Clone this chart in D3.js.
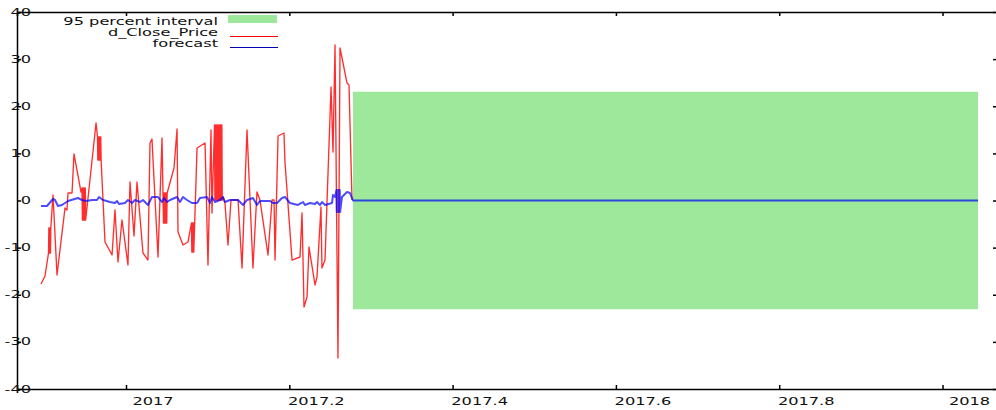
<!DOCTYPE html>
<html>
<head>
<meta charset="utf-8">
<script src="https://cdn.jsdelivr.net/npm/d3@7"></script>
<style>
  html, body { margin: 0; padding: 0; background: #fff; }
  svg { display: block; }
  text { font-family: "DejaVu Sans", sans-serif; fill: #111; }
</style>
</head>
<body>
<svg id="chart" width="996" height="410"></svg>
<script>
// Observed differenced closing price (decimal year, value)
const priceTime = [
  2016.8959, 2016.9008,
  2016.9051, 2016.9055, 2016.9059, 2016.9063, 2016.9067, 2016.9071, 2016.9075, 2016.9079,
  2016.9106, 2016.9155, 2016.9253, 2016.9277, 2016.9290, 2016.9339, 2016.9363, 2016.9449,
  2016.9461, 2016.9466, 2016.9471, 2016.9476, 2016.9481, 2016.9486, 2016.9491, 2016.9496, 2016.9501, 2016.9506,
  2016.9633,
  2016.9651, 2016.9655, 2016.9659, 2016.9663, 2016.9667, 2016.9671, 2016.9675, 2016.9679, 2016.9683, 2016.9687, 2016.9691, 2016.9695,
  2016.9743, 2016.9829, 2016.9865, 2016.9902, 2016.9951,
  2017.0024, 2017.0049, 2017.0098, 2017.0135, 2017.0208, 2017.0269, 2017.0294, 2017.0318,
  2017.0392, 2017.0441,
  2017.0459, 2017.0464, 2017.0469, 2017.0474, 2017.0479, 2017.0484, 2017.0489, 2017.0494, 2017.0499, 2017.0504,
  2017.0588, 2017.0625, 2017.0637, 2017.0698, 2017.0759,
  2017.0802, 2017.0806, 2017.0810, 2017.0814, 2017.0818, 2017.0822, 2017.0826, 2017.0830,
  2017.0870, 2017.0968, 2017.1004, 2017.1041, 2017.1053,
  2017.1084, 2017.1089, 2017.1094, 2017.1099, 2017.1104, 2017.1109, 2017.1114, 2017.1119, 2017.1124, 2017.1129,
  2017.1134, 2017.1139, 2017.1144, 2017.1149, 2017.1154, 2017.1159, 2017.1164, 2017.1169, 2017.1174, 2017.1179,
  2017.1188, 2017.1212, 2017.1249, 2017.1286, 2017.1372, 2017.1421, 2017.1482, 2017.1555,
  2017.1604, 2017.1641, 2017.1739, 2017.1788, 2017.1813, 2017.1825, 2017.1862, 2017.1935, 2017.1947,
  2017.2033, 2017.2131, 2017.2156, 2017.2180, 2017.2217, 2017.2241, 2017.2315, 2017.2339,
  2017.2388, 2017.2400, 2017.2437, 2017.2511, 2017.2535, 2017.2560, 2017.2596, 2017.2621,
  2017.2707, 2017.2731, 2017.2768
];
const priceValue = [
  -17.72, -16.02,
  -11.14, -5.84, -11.14, -5.84, -11.14, -5.84, -11.14, -5.84,
  1.17, -15.81, -1.59, -2.02, 1.59, 1.59, 9.87, 1.80,
  2.65, -4.14, 2.65, -4.14, 2.65, -4.14, 2.65, -4.14, 2.65, -4.14,
  16.45,
  13.47, 8.59, 13.47, 8.59, 13.47, 8.59, 13.47, 8.59, 13.47, 8.59, 13.47, 8.59,
  -8.81, -11.57, -2.02, -13.05, -4.14,
  -13.69, 3.93, -7.53, 3.93, -11.14, -12.63, 12.20, 13.05,
  -11.99, 13.26,
  -4.77, 1.59, -4.77, 1.59, -4.77, 1.59, -4.77, 1.59, -4.77, 1.59,
  6.90, 15.17, -6.68, -9.44, -8.81,
  -4.77, -10.93, -4.77, -10.93, -4.77, -10.93, -4.77, -10.93,
  11.14, 12.20, -13.69, 14.96, -2.65,
  16.02, 0.10, 16.02, 0.10, 16.02, 0.10, 16.02, 0.10, 16.02, 0.10,
  16.02, 0.10, 16.02, 0.10, 16.02, 0.10, 16.02, 0.10, 16.02, 0.10,
  0.74, -0.53, -9.44, 0.10, 0.10, -14.32, 14.96, -14.32,
  1.80, 0.10, -11.57, 0.10, 0.10, -12.63, 13.69, 14.32, 8.17,
  -12.63, -11.99, -2.65, -22.60, -20.48, -9.87, -17.93, -16.23,
  -1.38, -14.32, -12.63, 24.08, 10.29, 33.00, -33.42, 32.36,
  24.93, 24.51, 0.10
];

// In-sample fitted values of the model
const fitTime = [
  2016.8959, 2016.9032, 2016.9106, 2016.9130, 2016.9167, 2016.9216, 2016.9253, 2016.9290,
  2016.9412, 2016.9461, 2016.9510, 2016.9584, 2016.9645, 2016.9669, 2016.9718, 2016.9804,
  2016.9865, 2016.9890, 2016.9914, 2016.9988, 2017.0024, 2017.0073, 2017.0110, 2017.0171,
  2017.0208, 2017.0269, 2017.0318, 2017.0392, 2017.0441, 2017.0465, 2017.0502, 2017.0539,
  2017.0625, 2017.0661, 2017.0698, 2017.0747, 2017.0808, 2017.0870, 2017.0906, 2017.0992,
  2017.1029, 2017.1053, 2017.1090, 2017.1151, 2017.1188, 2017.1212, 2017.1274, 2017.1372,
  2017.1433, 2017.1482, 2017.1555, 2017.1604, 2017.1641, 2017.1764, 2017.1800, 2017.1849,
  2017.1911, 2017.1947, 2017.2008, 2017.2106, 2017.2168, 2017.2192, 2017.2253, 2017.2315,
  2017.2339, 2017.2376, 2017.2400, 2017.2437, 2017.2523, 2017.2535, 2017.2560,
  2017.2578, 2017.2582, 2017.2586, 2017.2590, 2017.2594, 2017.2598,
  2017.2602, 2017.2606, 2017.2610, 2017.2614, 2017.2618, 2017.2622,
  2017.2645, 2017.2707, 2017.2743, 2017.2780
];
const fitValue = [
  -1.17, -1.17, 0.32, 0.11, -1.17, -0.95, -0.53, -0.11,
  0.53, 0.11, -0.11, 0.11, 0.11, 0.74, 0.11, -0.32,
  -0.53, -0.11, -0.74, -0.53, 0.11, -0.53, 0.11, -0.32,
  0.11, -0.95, 0.74, 0.74, -0.32, 0.53, -0.32, 0.11,
  0.74, -0.32, 0.74, 0.11, -0.53, -0.53, 0.53, 0.74,
  -0.53, 0.74, -0.32, 0.11, 0.74, -0.32, 0.11, 0.11,
  -0.95, 0.11, 0.53, -0.95, -0.11, -0.11, -0.53, -0.53,
  0.53, 0.74, -0.53, -0.95, -0.32, -0.95, -0.53, -0.74,
  -0.32, -0.95, -0.32, -0.95, -0.53, 1.17, 0.74,
  2.23, -2.44, 2.23, -2.44, 2.23, -2.44,
  2.23, -2.44, 2.23, -2.44, 2.23, -2.44,
  0.74, 1.80, 1.59, 0.00
];

// Out-of-sample forecast and its 95 percent interval
const forecastTime = [2017.2780, 2018.0435];
const forecastValue = [0.0, 0.0];
const intervalUpper = [23.1, 23.1];
const intervalLower = [-23.1, -23.1];

// Axis ticks and legend entries
const xTicks = [2017, 2017.2, 2017.4, 2017.6, 2017.8, 2018];
const xTickLabels = ["2017", "2017.2", "2017.4", "2017.6", "2017.8", "2018"];
const yTicks = [-40, -30, -20, -10, 0, 10, 20, 30, 40];
const legendLabels = ["95 percent interval", "d_Close_Price", "forecast"];

const svg = d3.select("#chart");
const plot = { left: 17, right: 997, top: 12, bottom: 389 };

const x = d3.scaleLinear().domain([2016.8665, 2018.0655]).range([17, 996]);
const y = d3.scaleLinear().domain([-40, 40]).range([plot.bottom, plot.top]);

const stretch = 1.62;   // wide tick/legend lettering
const fontSize = 10;

// Confidence band
const band = forecastTime.map((t, i) => ({ t, lo: intervalLower[i], hi: intervalUpper[i] }));
svg.append("path")
  .datum(band)
  .attr("fill", "#9de89b")
  .attr("d", d3.area().x(d => x(d.t)).y0(d => y(d.lo)).y1(d => y(d.hi)));

// Observed series
const price = priceTime.map((t, i) => ({ t, v: priceValue[i] }));
svg.append("path")
  .datum(price)
  .attr("fill", "none")
  .attr("stroke", "#ff0000")
  .attr("stroke-opacity", 0.82)
  .attr("stroke-width", 1.35)
  .attr("stroke-linejoin", "round")
  .attr("d", d3.line().x(d => x(d.t)).y(d => y(d.v)));

// Fitted + forecast series
const fit = fitTime.map((t, i) => ({ t, v: fitValue[i] }))
  .concat(forecastTime.map((t, i) => ({ t, v: forecastValue[i] })));
svg.append("path")
  .datum(fit)
  .attr("fill", "none")
  .attr("stroke", "#0000ff")
  .attr("stroke-opacity", 0.7)
  .attr("stroke-width", 2)
  .attr("stroke-linejoin", "round")
  .attr("d", d3.line().x(d => x(d.t)).y(d => y(d.v)));

// Frame and ticks
const axisStyle = g => {
  g.selectAll("path, line").attr("stroke", "#000").attr("stroke-width", 1.5);
  g.selectAll("text").remove();
};
svg.append("g").attr("transform", `translate(0,${plot.bottom})`)
  .call(d3.axisBottom(x).tickValues(xTicks).tickSize(-4).tickSizeOuter(0).tickFormat(""))
  .call(axisStyle);
svg.append("g").attr("transform", `translate(0,${plot.top})`)
  .call(d3.axisTop(x).tickValues(xTicks).tickSize(-4).tickSizeOuter(0).tickFormat(""))
  .call(axisStyle);
svg.append("g").attr("transform", `translate(${plot.left},0)`)
  .call(d3.axisLeft(y).tickValues(yTicks).tickSize(-4).tickSizeOuter(0).tickFormat(""))
  .call(axisStyle);
svg.append("g").attr("transform", `translate(${plot.right},0)`)
  .call(d3.axisRight(y).tickValues(yTicks).tickSize(-4).tickSizeOuter(0).tickFormat(""))
  .call(axisStyle);

// Tick labels
svg.append("g").selectAll("text")
  .data(yTicks)
  .join("text")
  .attr("transform", d => `translate(31,${y(d) + 3.6}) scale(${stretch},1)`)
  .attr("text-anchor", "end")
  .attr("font-size", fontSize)
  .text(d => String(d));

svg.append("g").selectAll("text")
  .data(xTicks)
  .join("text")
  .attr("transform", d => `translate(${x(d) + 27},${plot.bottom + 15.5}) scale(${stretch},1)`)
  .attr("text-anchor", "middle")
  .attr("font-size", fontSize)
  .text((d, i) => xTickLabels[i]);

// Legend
const legend = svg.append("g");
const legendY = [25, 36, 47];
legend.selectAll("text")
  .data(legendLabels)
  .join("text")
  .attr("transform", (d, i) => `translate(218,${legendY[i]}) scale(${stretch},1)`)
  .attr("text-anchor", "end")
  .attr("font-size", fontSize)
  .text(d => d);
legend.append("rect")
  .attr("x", 228).attr("y", 15).attr("width", 49).attr("height", 8)
  .attr("fill", "#9de89b");
legend.append("line")
  .attr("x1", 230).attr("x2", 278).attr("y1", 36.5).attr("y2", 36.5)
  .attr("stroke", "#ff0000").attr("stroke-width", 1);
legend.append("line")
  .attr("x1", 230).attr("x2", 278).attr("y1", 47.5).attr("y2", 47.5)
  .attr("stroke", "#0000b0").attr("stroke-width", 1);
</script>
</body>
</html>
